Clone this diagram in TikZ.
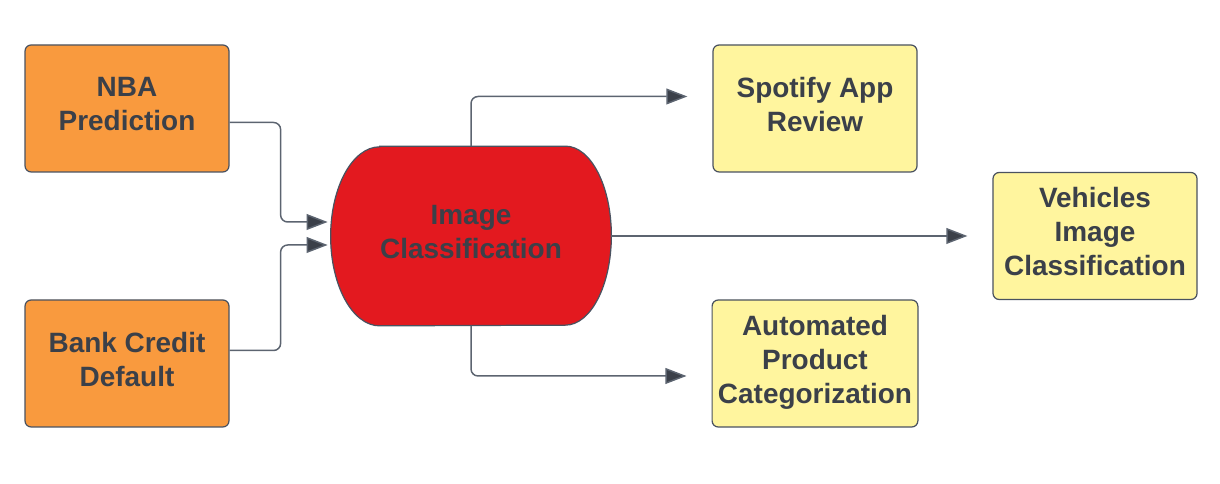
\documentclass[tikz,border=0pt]{standalone}
\usepackage{fontspec}
\setmainfont{Liberation Sans}
\usepackage{tikz}
\usetikzlibrary{arrows.meta, backgrounds}

\definecolor{inkgray}{HTML}{3B4049}
\definecolor{edgegray}{HTML}{4A5260}
\definecolor{linegray}{HTML}{5C6470}
\definecolor{srcorange}{HTML}{F99A3E}
\definecolor{hubred}{HTML}{E3191F}
\definecolor{dstyellow}{HTML}{FFF59E}

\tikzset{
    label text/.style={align=center, text=inkgray, execute at end node={\rule[-5pt]{0pt}{5pt}},
        font=\fontsize{15.9}{19.3}\selectfont\bfseries},
    box/.style={label text, draw=edgegray, line width=0.7pt, rounded corners=3.5pt,
        minimum width=4.08cm, minimum height=2.54cm},
    link/.style={draw=linegray, line width=0.85pt, rounded corners=4pt,
        -{Triangle[length=12pt, width=9pt, fill=inkgray]}}
}

\begin{document}
\begin{tikzpicture}
        \useasboundingbox (0, 0) rectangle (24.4, 9.68);
        \node[box, fill=srcorange] (nba) at (2.54, 7.51) {NBA\\Prediction};
        \node[box, fill=srcorange] (bank) at (2.54, 2.41) {Bank Credit\\Default};
        \node[label text, minimum width=5.6cm, minimum height=3.58cm] (ic) at (9.42, 4.96) {Image\\Classification};
        \node[box, fill=dstyellow] (spot) at (16.30, 7.51) {Spotify App\\Review};
        \node[box, fill=dstyellow] (veh) at (21.90, 4.96) {Vehicles\\Image\\Classification};
        \node[box, fill=dstyellow] (auto) at (16.30, 2.41) {Automated\\Product\\Categorization};
        \begin{scope}[on background layer]
            \draw[draw=edgegray, line width=0.7pt, fill=hubred] ([xshift=0.98cm]ic.north west) -- ([xshift=-0.92cm]ic.north east)
                arc[start angle=90, end angle=-90, x radius=0.92cm, y radius=1.79cm]
                -- ([xshift=0.98cm]ic.south west)
                arc[start angle=270, end angle=90, x radius=0.98cm, y radius=1.79cm] -- cycle;
        \end{scope}
        \draw[link] ([yshift=-0.28cm]nba.east) -- ++(1.02, 0) |- ([xshift=-0.06cm, yshift=0.28cm]ic.west);
        \draw[link] ([yshift=0.26cm]bank.east) -- ++(1.02, 0) |- ([xshift=-0.06cm, yshift=-0.18cm]ic.west);
        \draw[link] (ic.north) |- ([xshift=-0.5cm, yshift=0.24cm]spot.west);
        \draw[link] (ic.south) |- ([xshift=-0.5cm, yshift=-0.25cm]auto.west);
        \draw[link] (ic.east) -- ([xshift=-0.5cm]veh.west);
    \end{tikzpicture}
\end{document}
